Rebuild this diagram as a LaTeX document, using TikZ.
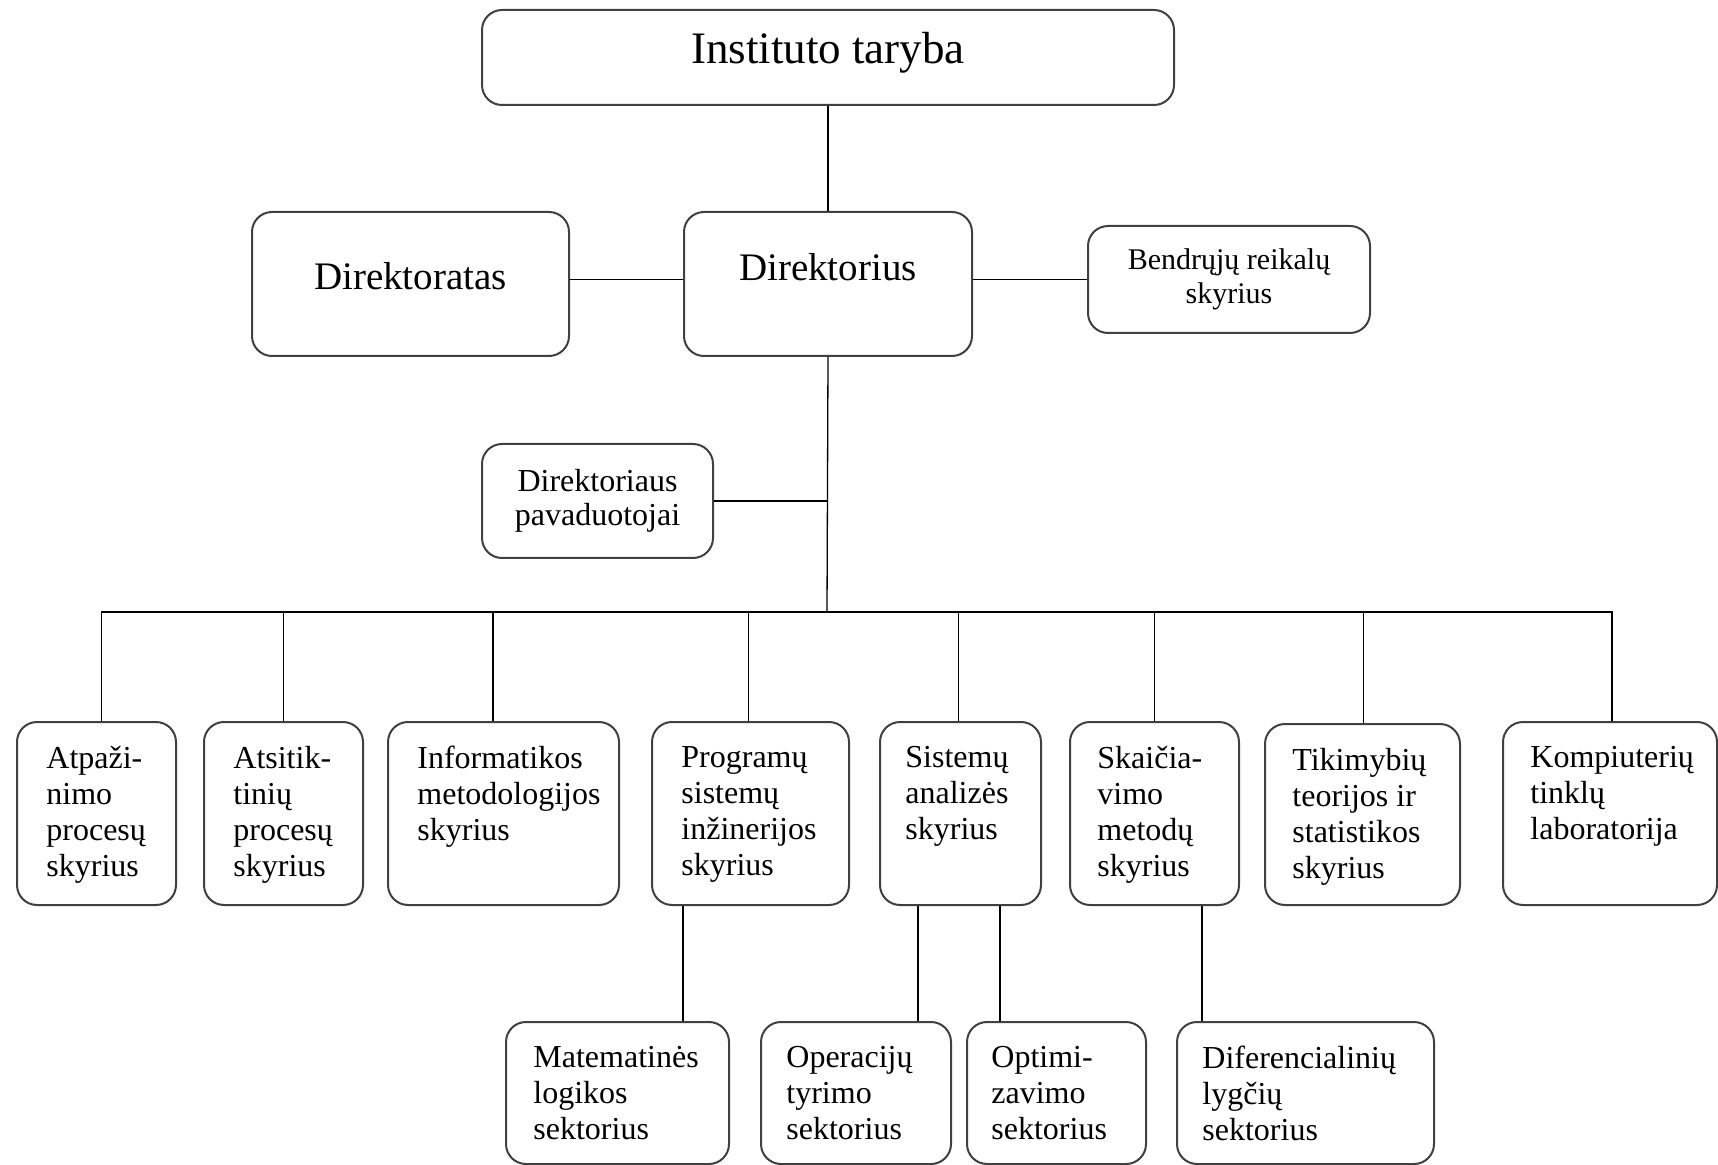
\documentclass[tikz,border=0pt]{standalone}
\usepackage{fontspec}
\setmainfont{Liberation Serif}
\begin{document}
\begin{tikzpicture}[x=0.5pt,y=-0.5pt,
  unit/.style={draw=black!75, line width=1pt, rounded corners=10pt, inner sep=0pt, anchor=north west, align=center},
  lbl/.style={anchor=north west, inner sep=0pt, align=left, font=\fontsize{16}{18}\selectfont},
  link/.style={draw=black, line width=0.65pt}]
\useasboundingbox (0,0) rectangle (1718,1165);
% vadovybe
\node [unit, minimum width=346pt, minimum height=47.5pt, font=\fontsize{22.5}{27}\selectfont, text depth=9.3pt] (taryba) at (481,9) {Instituto taryba};
\node [unit, minimum width=158.5pt, minimum height=72pt, font=\fontsize{19.5}{23}\selectfont, text depth=8.5pt] (dirt) at (251,211) {Direktoratas};
\node [unit, minimum width=144pt, minimum height=72pt, font=\fontsize{19.5}{23}\selectfont, text depth=17pt] (dirs) at (683,211) {Direktorius};
\node [unit, minimum width=141pt, minimum height=53.5pt, font=\fontsize{15}{17}\selectfont] (bendr) at (1087,225) {Bendrųjų reikalų\\skyrius};
\node [unit, minimum width=115.5pt, minimum height=57pt, font=\fontsize{16}{17}\selectfont] (pav) at (481,443) {Direktoriaus\\pavaduotojai};
% skyriai
\node [unit, minimum width=79.5pt, minimum height=91.5pt] (atp) at (16,721) {};
\node [unit, minimum width=79.5pt, minimum height=91.5pt] (ats) at (203,721) {};
\node [unit, minimum width=115.5pt, minimum height=91.5pt] (inf) at (387,721) {};
\node [unit, minimum width=98.5pt, minimum height=91.5pt] (prog) at (651,721) {};
\node [unit, minimum width=80.5pt, minimum height=91.5pt] (sis) at (879,721) {};
\node [unit, minimum width=84.5pt, minimum height=91.5pt] (ska) at (1069,721) {};
\node [unit, minimum width=97.5pt, minimum height=90.5pt] (tik) at (1264,723) {};
\node [unit, minimum width=107pt, minimum height=91.5pt] (komp) at (1502,721) {};
\node [lbl] (atp-t) at ([xshift=15pt,yshift=-12.5pt]atp.north west) {Atpaži-\\nimo\\procesų\\skyrius};
\node [lbl] (ats-t) at ([xshift=15pt,yshift=-12.5pt]ats.north west) {Atsitik-\\tinių\\procesų\\skyrius};
\node [lbl] (inf-t) at ([xshift=15pt,yshift=-12.5pt]inf.north west) {Informatikos\\metodologijos\\skyrius};
\node [lbl] (prog-t) at ([xshift=15pt,yshift=-12.5pt]prog.north west) {Programų\\sistemų\\inžinerijos\\skyrius};
\node [lbl] (sis-t) at ([xshift=13pt,yshift=-12.5pt]sis.north west) {Sistemų\\analizės\\skyrius};
\node [lbl] (ska-t) at ([xshift=14pt,yshift=-12.5pt]ska.north west) {Skaičia-\\vimo\\metodų\\skyrius};
\node [lbl] (tik-t) at ([xshift=14pt,yshift=-12.5pt]tik.north west) {Tikimybių\\teorijos ir\\statistikos\\skyrius};
\node [lbl] (komp-t) at ([xshift=14pt,yshift=-12.5pt]komp.north west) {Kompiuterių\\tinklų\\laboratorija};
% sektoriai
\node [unit, minimum width=111.5pt, minimum height=71pt] (mat) at (505,1021) {};
\node [unit, minimum width=95pt, minimum height=71pt] (oper) at (760,1021) {};
\node [unit, minimum width=89.5pt, minimum height=71pt] (opt) at (966,1021) {};
\node [unit, minimum width=128.5pt, minimum height=71pt] (dif) at (1176,1021) {};
\node [lbl] (mat-t) at ([xshift=14pt,yshift=-12.5pt]mat.north west) {Matematinės\\logikos\\sektorius};
\node [lbl] (oper-t) at ([xshift=13pt,yshift=-12.5pt]oper.north west) {Operacijų\\tyrimo\\sektorius};
\node [lbl] (opt-t) at ([xshift=12.5pt,yshift=-12.5pt]opt.north west) {Optimi-\\zavimo\\sektorius};
\node [lbl] (dif-t) at ([xshift=13pt,yshift=-12.5pt]dif.north west) {Diferencialinių\\lygčių\\sektorius};
% jungtys
\coordinate (bus) at (827,612);
\draw [link] (taryba) -- (dirs);
\draw [link] (dirt.east |- bendr.west) -- (dirs.west |- bendr.west);
\draw [link] (dirs.east |- bendr.west) -- (bendr.west);
\draw [link] (dirs.south) -- (bus);
\draw [link] (pav.east) -- (pav.east -| bus);
\foreach \n/\dx in {atp/2.5,ats/0,inf/-5.25,prog/-1,sis/-1,ska/0,tik/0.5,komp/1}
  \draw [link] ([xshift=\dx pt]\n.north) |- (bus);
\coordinate (c1) at ([xshift=16pt]prog.south west);
\coordinate (c2) at ([xshift=19.5pt]sis.south west);
\coordinate (c3) at ([xshift=60.5pt]sis.south west);
\coordinate (c4) at ([xshift=66.5pt]ska.south west);
\draw [link] (c1) -- (c1 |- mat.north);
\draw [link] (c2) -- (c2 |- oper.north);
\draw [link] (c3) -- (c3 |- opt.north);
\draw [link] (c4) -- (c4 |- dif.north);
\end{tikzpicture}
\end{document}
